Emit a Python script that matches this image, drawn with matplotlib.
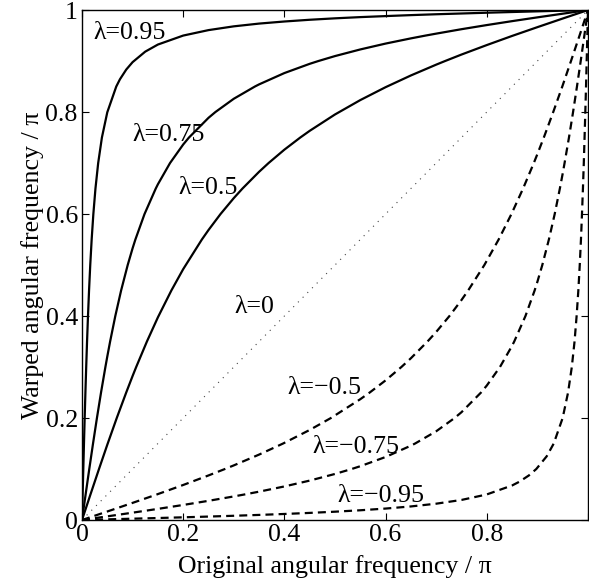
import matplotlib
matplotlib.use("Agg")
import matplotlib.pyplot as plt

plt.rcParams['font.family'] = ['Liberation Serif', 'DejaVu Serif']
plt.rcParams['font.size'] = 18.6

# --- Data (normalised frequencies, units of pi) ---
# lambda = 0.95 (solid)
x_p095 = [0, 0.00128, 0.00259, 0.00392, 0.00530, 0.00676, 0.00832, 0.01000,
          0.01186, 0.01394, 0.01632, 0.01911, 0.02246, 0.02662, 0.03201,
          0.03936, 0.05, 0.06774, 0.075, 0.0875, 0.1, 0.125, 0.15, 0.2, 0.25,
          0.3, 0.35, 0.4, 0.45, 0.5, 0.55, 0.6, 0.65, 0.7, 0.75, 0.8, 0.85,
          0.9, 0.95, 1.0]
y_p095 = [0, 0.05, 0.10, 0.15, 0.20, 0.25, 0.30, 0.35, 0.40, 0.45, 0.50,
          0.55, 0.60, 0.65, 0.70, 0.75, 0.7995, 0.85, 0.8642, 0.8833, 0.8978,
          0.9184, 0.9323, 0.9499, 0.9606, 0.9680, 0.9734, 0.9775, 0.9809,
          0.9837, 0.9861, 0.9881, 0.9900, 0.9917, 0.9932, 0.9947, 0.9961,
          0.9974, 0.9987, 1.0]

# lambda = 0.75 (solid)
x_p075 = [0, 0.00716, 0.01440, 0.02183, 0.02953, 0.03763, 0.04626, 0.05,
          0.05559, 0.06584, 0.07729, 0.09033, 0.1, 0.10551, 0.12360, 0.14581,
          0.15, 0.17402, 0.2, 0.21143, 0.25, 0.26371, 0.3, 0.34172, 0.35, 0.4,
          0.45, 0.46721, 0.5, 0.55, 0.6, 0.65, 0.67943, 0.7, 0.75, 0.8, 0.85,
          0.9, 0.95, 1.0]
y_p075 = [0, 0.05, 0.10, 0.15, 0.20, 0.25, 0.30, 0.3206, 0.35, 0.40, 0.45,
          0.50, 0.5328, 0.55, 0.60, 0.65, 0.6583, 0.70, 0.7363, 0.75, 0.7886,
          0.80, 0.8260, 0.85, 0.8542, 0.8764, 0.8945, 0.90, 0.9097, 0.9227,
          0.9342, 0.9444, 0.95, 0.9537, 0.9624, 0.9705, 0.9782, 0.9856,
          0.9928, 1.0]

# lambda = 0.5 (solid)
x_p050 = [0, 0.0167, 0.0336, 0.05, 0.0687, 0.0874, 0.1, 0.1071, 0.1283, 0.15,
          0.1766, 0.2, 0.2369, 0.25, 0.2738, 0.3, 0.3172, 0.35, 0.3688, 0.4,
          0.4314, 0.45, 0.5, 0.55, 0.6, 0.65, 0.7, 0.7176, 0.75, 0.8, 0.85,
          0.9, 0.95, 1.0]
y_p050 = [0, 0.05, 0.10, 0.1476, 0.20, 0.25, 0.2824, 0.30, 0.35, 0.3974, 0.45,
          0.4919, 0.55, 0.5686, 0.60, 0.6312, 0.65, 0.6828, 0.70, 0.7262,
          0.75, 0.7631, 0.7952, 0.8234, 0.8487, 0.8717, 0.8929, 0.90, 0.9127,
          0.9313, 0.9492, 0.9664, 0.9833, 1.0]

# lambda = 0 (dotted diagonal)
x_000 = [0, 1]
y_000 = [0, 1]

# negative lambda (dashed): mirror images of the solid curves about the diagonal
x_m050 = [0, 0.05, 0.10, 0.1476, 0.20, 0.25, 0.2824, 0.30, 0.35, 0.3974, 0.45,
          0.4919, 0.55, 0.5686, 0.60, 0.6312, 0.65, 0.6828, 0.70, 0.7262,
          0.75, 0.7631, 0.7952, 0.8234, 0.8487, 0.8717, 0.8929, 0.90, 0.9127,
          0.9313, 0.9492, 0.9664, 0.9833, 1.0]
y_m050 = [0, 0.0167, 0.0336, 0.05, 0.0687, 0.0874, 0.1, 0.1071, 0.1283, 0.15,
          0.1766, 0.2, 0.2369, 0.25, 0.2738, 0.3, 0.3172, 0.35, 0.3688, 0.4,
          0.4314, 0.45, 0.5, 0.55, 0.6, 0.65, 0.7, 0.7176, 0.75, 0.8, 0.85,
          0.9, 0.95, 1.0]

x_m075 = [0, 0.05, 0.10, 0.15, 0.20, 0.25, 0.30, 0.3206, 0.35, 0.40, 0.45,
          0.50, 0.5328, 0.55, 0.60, 0.65, 0.6583, 0.70, 0.7363, 0.75, 0.7886,
          0.80, 0.8260, 0.85, 0.8542, 0.8764, 0.8945, 0.90, 0.9097, 0.9227,
          0.9342, 0.9444, 0.95, 0.9537, 0.9624, 0.9705, 0.9782, 0.9856,
          0.9928, 1.0]
y_m075 = [0, 0.00716, 0.01440, 0.02183, 0.02953, 0.03763, 0.04626, 0.05,
          0.05559, 0.06584, 0.07729, 0.09033, 0.1, 0.10551, 0.12360, 0.14581,
          0.15, 0.17402, 0.2, 0.21143, 0.25, 0.26371, 0.3, 0.34172, 0.35, 0.4,
          0.45, 0.46721, 0.5, 0.55, 0.6, 0.65, 0.67943, 0.7, 0.75, 0.8, 0.85,
          0.9, 0.95, 1.0]

x_m095 = [0, 0.05, 0.10, 0.15, 0.20, 0.25, 0.30, 0.35, 0.40, 0.45, 0.50,
          0.55, 0.60, 0.65, 0.70, 0.75, 0.7995, 0.85, 0.8642, 0.8833, 0.8978,
          0.9184, 0.9323, 0.9499, 0.9606, 0.9680, 0.9734, 0.9775, 0.9809,
          0.9837, 0.9861, 0.9881, 0.9900, 0.9917, 0.9932, 0.9947, 0.9961,
          0.9974, 0.9987, 1.0]
y_m095 = [0, 0.00128, 0.00259, 0.00392, 0.00530, 0.00676, 0.00832, 0.01000,
          0.01186, 0.01394, 0.01632, 0.01911, 0.02246, 0.02662, 0.03201,
          0.03936, 0.05, 0.06774, 0.075, 0.0875, 0.1, 0.125, 0.15, 0.2, 0.25,
          0.3, 0.35, 0.4, 0.45, 0.5, 0.55, 0.6, 0.65, 0.7, 0.75, 0.8, 0.85,
          0.9, 0.95, 1.0]

labels = ["λ=0.95", "λ=0.75", "λ=0.5", "λ=0",
          "λ=\u22120.5", "λ=\u22120.75", "λ=\u22120.95"]
label_pos = [(0.022, 0.955), (0.100, 0.755), (0.190, 0.651), (0.302, 0.418),
             (0.405, 0.259), (0.455, 0.143), (0.504, 0.047)]

ticks = [0, 0.2, 0.4, 0.6, 0.8, 1]
xtick_labels = ["0", "0.2", "0.4", "0.6", "0.8", ""]
ytick_labels = ["0", "0.2", "0.4", "0.6", "0.8", "1"]

# --- Plot ---
fig = plt.figure(figsize=(5.89, 5.86), dpi=100)
ax = fig.add_axes([0.1392, 0.1126, 0.8591, 0.8703])

solid = dict(color="black", lw=1.6)
dashed = dict(color="black", lw=1.6, linestyle=(0, (3.6, 2.3)))

ax.plot(x_p095, y_p095, **solid)
ax.plot(x_p075, y_p075, **solid)
ax.plot(x_p050, y_p050, **solid)
ax.plot(x_000, y_000, color="#444444", lw=0.8, linestyle=(0, (1, 5)))
ax.plot(x_m050, y_m050, **dashed)
ax.plot(x_m075, y_m075, **dashed)
ax.plot(x_m095, y_m095, **dashed)

for txt, (tx, ty) in zip(labels, label_pos):
    ax.text(tx, ty, txt, ha="left", va="center")

ax.set_xlim(0, 1)
ax.set_ylim(0, 1)
ax.set_xticks(ticks)
ax.set_xticklabels(xtick_labels)
ax.set_yticks(ticks)
ax.set_yticklabels(ytick_labels)
ax.tick_params(direction="in", top=True, right=True, length=5, width=0.8,
               pad=3, labelsize=18.6)
for s in ax.spines.values():
    s.set_linewidth(1.0)

ax.set_xlabel("Original angular frequency / π", labelpad=6)
ax.set_ylabel("Warped angular frequency / π", labelpad=1)

fig.savefig("out.png", dpi=100)
